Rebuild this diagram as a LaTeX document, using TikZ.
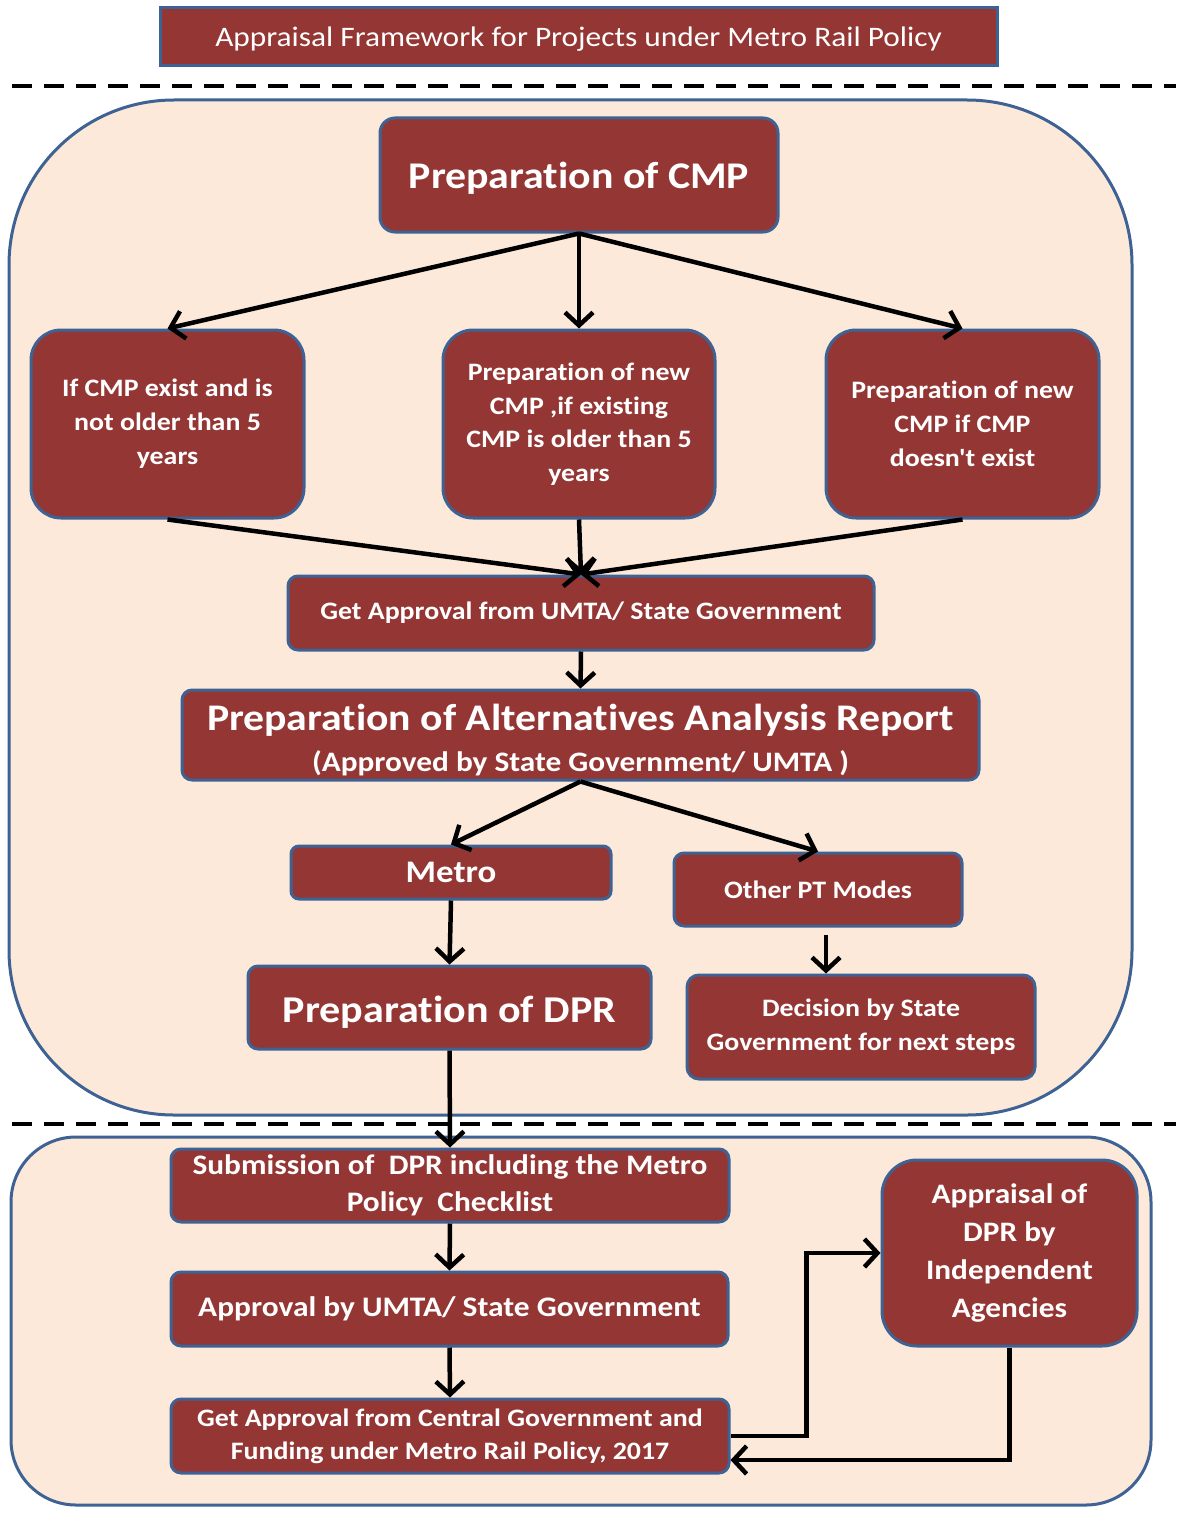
\documentclass[tikz,border=0pt]{standalone}
\usepackage{fontspec}
\setmainfont{Carlito}[FakeStretch=1.11, Ligatures={CommonOff,TeXOff}]
\usepackage{tikz}
\usetikzlibrary{arrows.meta}
\definecolor{mBox}{HTML}{943634}
\definecolor{mLine}{HTML}{3E6293}
\definecolor{mPanel}{HTML}{FDE9DA}

\newcommand{\fs}[2]{\fontsize{#1}{#2}\selectfont}
\newcommand{\lift}[1]{\rule{0pt}{#1pt}}

\begin{document}
\begin{tikzpicture}[x=1pt, y=-1pt,
    box/.style={draw=mLine, line width=3pt, fill=mBox, text=white, align=center,
      inner sep=0pt, rounded corners=10pt, font=\bfseries},
    panel/.style={draw=mLine, line width=3pt, fill=mPanel},
    arr/.style={line width=4.5pt, -{Straight Barb[length=13pt, width=28pt, line width=4.5pt]}},
    sep/.style={line width=4pt, dash pattern=on 20pt off 12pt}]
    \useasboundingbox (0,0) rectangle (1176,1517);

    \node[box, rounded corners=0pt, font=\fs{28.25}{34}, minimum width=837, minimum height=58] (title) at (578.5,37)
      {\lift{24}Appraisal Framework for Projects under Metro Rail Policy};
    \draw[sep] (12,86) -- (1176,86);

    \draw[panel, rounded corners=165pt] (9,100) rectangle (1132,1115);

    \node[box, rounded corners=15pt, font=\bfseries\fs{37.7}{44}, minimum width=398, minimum height=114] (cmp) at (579,175)
      {\lift{33}Preparation of CMP};
    \node[box, rounded corners=30pt, font=\bfseries\fs{25.1}{34}, minimum width=273, minimum height=188] (cmpok) at (167.5,424)
      {If CMP exist and is\\not older than 5\\years};
    \node[box, rounded corners=30pt, font=\bfseries\fs{25.1}{33.5}, minimum width=272, minimum height=188] (cmpold) at (579,424)
      {Preparation of new\\CMP ,if existing\\CMP is older than 5\\years};
    \node[box, rounded corners=30pt, font=\bfseries\fs{25.1}{34}, minimum width=273, minimum height=188] (cmpnew) at (962.5,424)
      {Preparation of new\\CMP if CMP\\doesn't exist};

    \node[box, font=\bfseries\fs{25.1}{30}, minimum width=586, minimum height=74] (umta) at (581,613)
      {Get Approval from UMTA/ State Government};
    \node[box, font=\bfseries\fs{37.6}{43}, minimum width=797, minimum height=90] (alt) at (580.5,735)
      {\lift{37}Preparation of Alternatives Analysis Report\\[-2pt]{\fs{28.2}{32}(Approved by State Government/ UMTA )}};

    \node[box, rounded corners=8pt, font=\bfseries\fs{31.4}{36}, minimum width=320, minimum height=53] (metro) at (451,872.5)
      {Metro};
    \node[box, font=\bfseries\fs{25.1}{30}, minimum width=288, minimum height=73] (other) at (818,889.5)
      {Other PT Modes};
    \node[box, font=\bfseries\fs{37.9}{44}, minimum width=403, minimum height=83] (dpr) at (449.5,1007.5)
      {\lift{36}Preparation of DPR};
    \node[box, rounded corners=12pt, font=\bfseries\fs{25.1}{34}, minimum width=348, minimum height=104] (decide) at (861,1027)
      {Decision by State\\Government for next steps};

    \draw[sep] (12,1124) -- (1176,1124);
    \draw[panel, rounded corners=65pt] (11,1137) rectangle (1151,1505);

    \node[box, font=\bfseries\fs{28.25}{37}, minimum width=558, minimum height=73] (submit) at (450,1185.5)
      {Submission of~ DPR including the Metro\\Policy~ Checklist};
    \node[box, font=\bfseries\fs{28.3}{34}, minimum width=557, minimum height=74] (approve) at (449.5,1309)
      {Approval by UMTA/ State Government};
    \node[box, font=\bfseries\fs{25.1}{33}, minimum width=558, minimum height=74] (central) at (450,1436)
      {Get Approval from Central Government and\\Funding under Metro Rail Policy, 2017};
    \node[box, rounded corners=35pt, font=\bfseries\fs{28.2}{38}, minimum width=255, minimum height=186] (appraise) at (1009.5,1253)
      {Appraisal of\\DPR by\\Independent\\Agencies};

    \draw[arr] (cmp.south) -- (cmpok.north);
    \draw[arr] (cmp.south) -- (cmpold.north);
    \draw[arr] (cmp.south) -- (cmpnew.north);
    \draw[arr] (cmpok.south) -- (umta.north);
    \draw[arr] (cmpold.south) -- (umta.north);
    \draw[arr] (cmpnew.south) -- (umta.north);
    \draw[arr] (umta.south) -- (alt.north);
    \draw[arr] (alt.south) -- (metro.north);
    \draw[arr] (alt.south) -- (other.north);
    \draw[arr] (metro.south) -- (dpr.north);
    \draw[arr] ([xshift=8pt, yshift=-7pt]other.south) -- ([xshift=8pt]other.south |- decide.north);
    \draw[arr] (dpr.south) -- (submit.north);
    \draw[arr] (submit.south) -- (approve.north);
    \draw[arr] (approve.south) -- (central.north);
    \draw[arr] (central.east) -- ++(76,0) |- (appraise.west);
    \draw[arr] (appraise.south) |- ([yshift=-24pt]central.east);
\end{tikzpicture}
\end{document}
